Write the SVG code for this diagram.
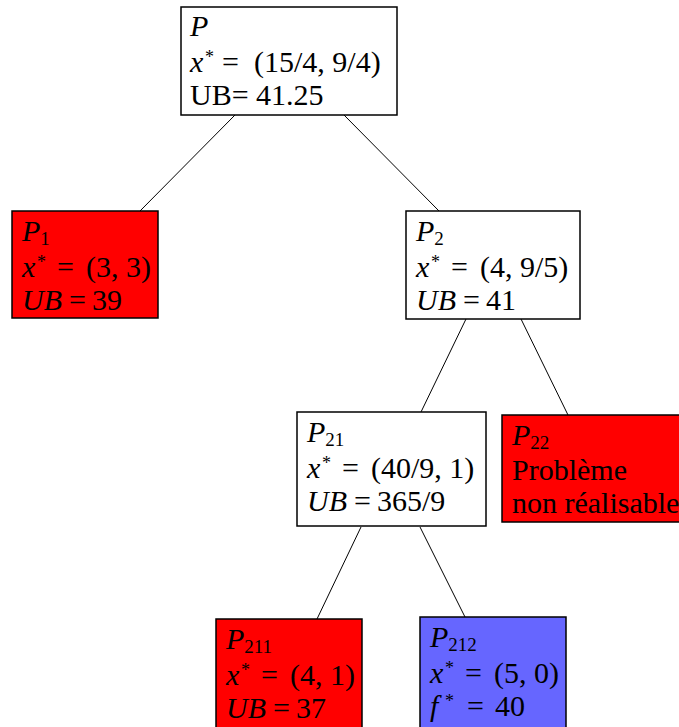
<svg xmlns="http://www.w3.org/2000/svg" width="679" height="727" viewBox="0 0 679 727">
<style>
  .box { stroke: #000; stroke-width: 1.5; }
  .w { fill: #fff; }
  .r { fill: #ff0000; }
  .b { fill: #6666ff; }
  text { font-family: "Liberation Serif", "DejaVu Serif", serif; font-size: 30px; fill: #000; }
  .i { font-style: italic; }
  .sub { font-size: 19px; font-style: normal; }
  .sup { font-size: 18px; }
  .edge { stroke: #000; stroke-width: 1; fill: none; }
</style>
<rect width="679" height="727" fill="#fff"/>
<g id="connectors">
  <line class="edge" x1="235" y1="115" x2="140" y2="211"/>
  <line class="edge" x1="344" y1="115" x2="439" y2="211"/>
  <line class="edge" x1="466" y1="319" x2="421" y2="412"/>
  <line class="edge" x1="521" y1="319" x2="568" y2="415"/>
  <line class="edge" x1="361" y1="527" x2="317" y2="619"/>
  <line class="edge" x1="420" y1="527" x2="465" y2="617"/>
</g>
<g id="P">
  <rect class="box w" x="181" y="7" width="216" height="108"/>
  <text x="190" y="36" class="i">P</text>
  <text y="72"><tspan x="190" class="i">x</tspan><tspan x="205" dy="-9" class="sup">*</tspan><tspan x="222" dy="9">=</tspan><tspan x="254">(15/4, 9/4)</tspan></text>
  <text x="190" y="105">UB= 41.25</text>
</g>
<g id="P1">
  <rect class="box r" x="12" y="211" width="146" height="107"/>
  <text x="22" y="241"><tspan class="i">P</tspan><tspan class="sub" dy="4">1</tspan></text>
  <text y="277"><tspan x="22" class="i">x</tspan><tspan x="37" dy="-9" class="sup">*</tspan><tspan x="57" dy="9">=</tspan><tspan x="86">(3, 3)</tspan></text>
  <text y="310"><tspan x="22" class="i">UB</tspan><tspan x="69">=</tspan><tspan x="92">39</tspan></text>
</g>
<g id="P2">
  <rect class="box w" x="406" y="211" width="174" height="108"/>
  <text x="416" y="241"><tspan class="i">P</tspan><tspan class="sub" dy="4">2</tspan></text>
  <text y="277"><tspan x="416" class="i">x</tspan><tspan x="431" dy="-9" class="sup">*</tspan><tspan x="451" dy="9">=</tspan><tspan x="480">(4, 9/5)</tspan></text>
  <text y="310"><tspan x="416" class="i">UB</tspan><tspan x="463">=</tspan><tspan x="486">41</tspan></text>
</g>
<g id="P21">
  <rect class="box w" x="297" y="412" width="189" height="114"/>
  <text x="307" y="442"><tspan class="i">P</tspan><tspan class="sub" dy="4">21</tspan></text>
  <text y="478"><tspan x="307" class="i">x</tspan><tspan x="322" dy="-9" class="sup">*</tspan><tspan x="342" dy="9">=</tspan><tspan x="371">(40/9, 1)</tspan></text>
  <text y="511"><tspan x="307" class="i">UB</tspan><tspan x="354">=</tspan><tspan x="377">365/9</tspan></text>
</g>
<g id="P22">
  <rect class="box r" x="502" y="415" width="190" height="107"/>
  <text x="512" y="445"><tspan class="i">P</tspan><tspan class="sub" dy="4">22</tspan></text>
  <text x="512" y="480">Problème</text>
  <text x="512" y="513">non réalisable</text>
</g>
<g id="P211">
  <rect class="box r" x="216" y="619" width="146" height="112"/>
  <text x="226" y="649"><tspan class="i">P</tspan><tspan class="sub" dy="4">211</tspan></text>
  <text y="685"><tspan x="226" class="i">x</tspan><tspan x="241" dy="-9" class="sup">*</tspan><tspan x="261" dy="9">=</tspan><tspan x="290">(4, 1)</tspan></text>
  <text y="718"><tspan x="226" class="i">UB</tspan><tspan x="273">=</tspan><tspan x="296">37</tspan></text>
</g>
<g id="P212">
  <rect class="box b" x="420" y="617" width="146" height="114"/>
  <text x="430" y="647"><tspan class="i">P</tspan><tspan class="sub" dy="4">212</tspan></text>
  <text y="683"><tspan x="430" class="i">x</tspan><tspan x="445" dy="-9" class="sup">*</tspan><tspan x="465" dy="9">=</tspan><tspan x="494">(5, 0)</tspan></text>
  <text y="716"><tspan x="430" class="i">f</tspan><tspan x="445" dy="-9" class="sup">*</tspan><tspan x="467" dy="9">=</tspan><tspan x="495">40</tspan></text>
</g>
</svg>
